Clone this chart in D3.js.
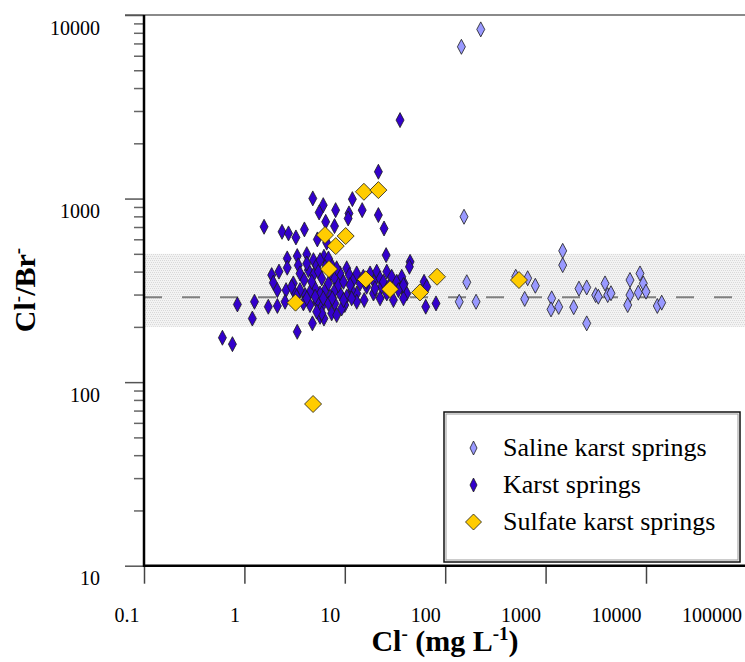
<!DOCTYPE html>
<html lang="en">
<head>
<meta charset="UTF-8">
<title>Cl/Br vs Cl</title>
<script src="https://cdn.jsdelivr.net/npm/d3@7"></script>
<style>
  body { margin: 0; background: #fff; }
  svg { display: block; font-family: "Liberation Serif", "Times New Roman", serif; }
</style>
</head>
<body>
<svg id="svg"></svg>
<script>
// ---- data (Cl- in mg/L, Cl/Br molar ratio) ----
const salineCl = [226, 145, 154, 164, 138, 203, 619, 663, 790, 1150, 1132, 1350, 1480, 1480, 1905, 2150,
  2567, 2567, 3155, 3350, 3906, 4155, 4480, 6928, 6928, 6570, 8714, 8380, 9400, 10000, 12960, 14340, 504];
const salineRatio = [8350, 6710, 796, 350, 274, 274, 284, 368, 335, 286, 249, 257, 519, 434, 256, 323,
  328, 209, 298, 292, 345, 298, 305, 360, 298, 263, 391, 307, 345, 311, 260, 271, 375];

const karstCl = [35.5, 21.6, 4.8, 6.1, 5.55, 8.1, 11.9, 11.0, 10.8, 14.9, 21.6, 24.6, 6.45, 7.9, 1.57, 2.37,
  2.75, 3.26, 3.96, 5.33, 6.6, 25.8, 44.7, 44.0, 2.67, 2.67, 3.36, 4.18, 3.44, 4.87, 5.25, 6.2, 1.87, 2.21,
  1.94, 2.13, 2.6, 3.07, 3.58, 3.93, 4.34, 4.87, 5.46, 5.9, 6.5, 7.24, 7.95, 8.97, 10.45, 11.1, 12.2, 13.15,
  14.2, 16.5, 17.85, 19.6, 20.8, 22.45, 23.3, 26.2, 29.3, 32.9, 36.9, 39, 41.4, 61.6, 65.5, 64, 81, 30.5,
  26.2, 22.45, 19.3, 15.6, 13.15, 11.7, 10.45, 10.0, 8.97, 7.95, 7.13, 6.36, 5.67, 5.06, 4.5, 4.02, 3.58,
  3.19, 2.95, 3.87, 4.5, 5.25, 5.9, 6.87, 7.95, 9.3, 5.67, 6.2, 4.76, 3.36, 5.9, 5.25, 7.4, 8.3, 0.852,
  1.26, 1.2, 1.73, 2.13, 2.54, 3.31, 0.604, 0.76, 4.18, 4.68, 6.87, 8.64, 9.7, 11.3, 15.3, 16.5, 20.0,
  24.2, 27.2, 34.2, 38.4, 13.15, 11.7, 9.7, 7.5, 6.1, 5.06, 4.18, 7.4, 8.3, 5.67, 6.87, 36.9, 38.4];
const karstRatio = [2676, 1400, 1002, 921, 840, 865, 993, 830, 779, 865, 813, 687, 747, 708, 702, 659,
  646, 614, 679, 599, 575, 492, 452, 425, 472, 420, 486, 498, 433, 462, 433, 482, 383, 400,
  348, 317, 317, 345, 391, 360, 408, 383, 400, 367, 433, 391, 367, 391, 417, 383, 360, 391,
  345, 331, 391, 352, 400, 367, 331, 400, 375, 352, 331, 345, 304, 352, 331, 257.5, 268.5, 280,
  304, 286, 304, 280, 304, 317, 292, 263, 304, 317, 292, 317, 304, 324, 310, 298, 317,
  304, 331, 268.5, 263, 274, 257.5, 268.5, 268.5, 252, 227, 222, 209, 188, 237, 242, 237, 232, 265,
  274, 222, 257.5, 260, 274, 292, 174.5, 161, 443, 352, 345, 338, 352, 338, 375, 352, 324,
  352, 331, 317, 286, 274, 286, 280, 286, 286, 292, 286, 433, 417, 462, 472, 375, 338];

const sulfateCl = [15.5, 21.6, 6.35, 10.2, 8.12, 6.96, 16.2, 28.2, 56.1, 82.9, 3.23, 4.83, 543];
const sulfateRatio = [1089, 1112, 633, 625, 551, 413, 363, 321, 308, 375, 271, 76, 360];

const xTicks = [0.1, 1, 10, 100, 1000, 10000, 100000];
const xTickLabels = ["0.1", "1", "10", "100", "1000", "10000", "100000"];
const yTicks = [10, 100, 1000, 10000];
const yTickLabels = ["10", "100", "1000", "10000"];
const bandRange = [200, 500];
const seawaterRatio = 290;
const legendLabels = ["Saline karst springs", "Karst springs", "Sulfate karst springs"];

// ---- layout ----
const width = 745, height = 662;
const plotL = 144, plotR = 746.4, plotT = 15, plotB = 565.7;

const svg = d3.select("#svg").attr("width", width).attr("height", height);

const x = d3.scaleLog().domain([0.1, 1e5]).range([plotL, plotR]);
const y = d3.scaleLog().domain([10, 10000]).range([plotB, plotT]);

// hatched band pattern
const defs = svg.append("defs");
const pat = defs.append("pattern").attr("id", "hatch")
  .attr("patternUnits", "userSpaceOnUse").attr("width", 4).attr("height", 4);
pat.append("rect").attr("width", 4).attr("height", 4).attr("fill", "#f3f3f3");
pat.append("rect").attr("x", 0).attr("y", 0).attr("width", 1).attr("height", 1).attr("fill", "#d9d9d9");
pat.append("rect").attr("x", 2).attr("y", 0).attr("width", 1).attr("height", 1).attr("fill", "#d9d9d9");
pat.append("rect").attr("x", 1).attr("y", 2).attr("width", 1).attr("height", 1).attr("fill", "#d9d9d9");
pat.append("rect").attr("x", 3).attr("y", 2).attr("width", 1).attr("height", 1).attr("fill", "#d9d9d9");

svg.append("rect")
  .attr("x", plotL).attr("width", plotR - plotL)
  .attr("y", y(bandRange[1])).attr("height", y(bandRange[0]) - y(bandRange[1]))
  .attr("fill", "url(#hatch)");

svg.append("line")
  .attr("x1", plotL).attr("x2", plotR)
  .attr("y1", y(seawaterRatio)).attr("y2", y(seawaterRatio))
  .attr("stroke", "#808080").attr("stroke-width", 2).attr("stroke-dasharray", "18,20");

// top frame line
svg.append("line").attr("x1", 125).attr("x2", plotR).attr("y1", plotT).attr("y2", plotT)
  .attr("stroke", "#8a8a8a").attr("stroke-width", 2);

// x axis
const xAxis = d3.axisBottom(x).tickValues(xTicks)
  .tickFormat((d, i) => xTickLabels[i]).tickSize(18).tickSizeOuter(0);
const gx = svg.append("g").attr("transform", `translate(0,${plotB})`).call(xAxis);
gx.select(".domain").remove();
gx.selectAll(".tick line").attr("stroke", "#444").attr("stroke-width", 1.5);
gx.selectAll(".tick text")
  .attr("text-anchor", "end").attr("x", -5).attr("y", 56).attr("dy", null)
  .attr("font-family", "Liberation Serif").attr("font-size", 20).attr("fill", "#000");

// y axis: majors + minors
const yAll = [];
for (let e = 1; e < 4; e++) for (let m = 1; m < 10; m++) yAll.push(m * Math.pow(10, e));
yAll.push(10000);
const yAxis = d3.axisLeft(y).tickValues(yAll)
  .tickFormat(d => { const i = yTicks.indexOf(d); return i >= 0 ? yTickLabels[i] : ""; })
  .tickSize(10).tickSizeOuter(0);
const gy = svg.append("g").attr("transform", `translate(${plotL},0)`).call(yAxis);
gy.select(".domain").remove();
gy.selectAll(".tick line")
  .attr("x2", d => yTicks.includes(d) ? -19 : -10)
  .attr("stroke", d => yTicks.includes(d) ? "#555" : "#666").attr("stroke-width", 1.5);
gy.selectAll(".tick text")
  .attr("x", -44).attr("y", 19).attr("dy", null)
  .attr("font-family", "Liberation Serif").attr("font-size", 20).attr("fill", "#000");

// axis lines
svg.append("line").attr("x1", plotL).attr("x2", plotL).attr("y1", plotT).attr("y2", plotB + 1)
  .attr("stroke", "#000").attr("stroke-width", 2.5);
svg.append("line").attr("x1", plotL - 1).attr("x2", plotR).attr("y1", plotB).attr("y2", plotB)
  .attr("stroke", "#000").attr("stroke-width", 2.5);

// diamonds
function diamond(cx, cy, hw, hh) {
  return `M${cx},${cy - hh}L${cx + hw},${cy}L${cx},${cy + hh}L${cx - hw},${cy}Z`;
}

function drawSeries(cl, ratio, hw, hh, fill) {
  svg.append("g").selectAll("path")
    .data(cl.map((c, i) => [c, ratio[i]]))
    .enter().append("path")
    .attr("d", d => diamond(x(d[0]), y(d[1]), hw, hh))
    .attr("fill", fill).attr("stroke", "#1a1a1a").attr("stroke-width", 0.8);
}

drawSeries(salineCl, salineRatio, 4, 7.5, "#9999ff");
drawSeries(karstCl, karstRatio, 4, 7.5, "#3300cc");
drawSeries(sulfateCl, sulfateRatio, 8.5, 8.5, "#ffcc00");

// legend
const lg = svg.append("g");
lg.append("rect").attr("x", 444).attr("y", 412).attr("width", 296).attr("height", 150)
  .attr("fill", "#fff").attr("stroke", "#111").attr("stroke-width", 1.5);
lg.append("rect").attr("x", 446).attr("y", 414).attr("width", 292).attr("height", 146)
  .attr("fill", "none").attr("stroke", "#999").attr("stroke-width", 1);
const legendStyle = [
  { fill: "#9999ff", hw: 3.5, hh: 7 },
  { fill: "#3300cc", hw: 3.5, hh: 7 },
  { fill: "#ffcc00", hw: 8, hh: 8 }
];
legendLabels.forEach((lab, i) => {
  const cy = 448 + i * 37;
  lg.append("path").attr("d", diamond(473.5, cy, legendStyle[i].hw, legendStyle[i].hh))
    .attr("fill", legendStyle[i].fill).attr("stroke", "#1a1a1a").attr("stroke-width", 0.8);
  lg.append("text").attr("x", 503).attr("y", cy + 8)
    .attr("font-size", 26).attr("fill", "#000").text(lab);
});

// axis titles
const yt = svg.append("text")
  .attr("transform", "translate(35,290) rotate(-90)")
  .attr("text-anchor", "middle").attr("font-weight", "bold").attr("font-size", 30);
yt.append("tspan").text("Cl");
yt.append("tspan").attr("font-size", 19).attr("dy", -11).text("-");
yt.append("tspan").attr("dy", 11).text("/Br");
yt.append("tspan").attr("font-size", 19).attr("dy", -11).text("-");

const xt = svg.append("text")
  .attr("x", 445).attr("y", 651)
  .attr("text-anchor", "middle").attr("font-weight", "bold").attr("font-size", 30);
xt.append("tspan").text("Cl");
xt.append("tspan").attr("font-size", 19).attr("dy", -11).text("-");
xt.append("tspan").attr("dy", 11).text(" (mg L");
xt.append("tspan").attr("font-size", 19).attr("dy", -11).text("-1");
xt.append("tspan").attr("dy", 11).text(")");
</script>
</body>
</html>
